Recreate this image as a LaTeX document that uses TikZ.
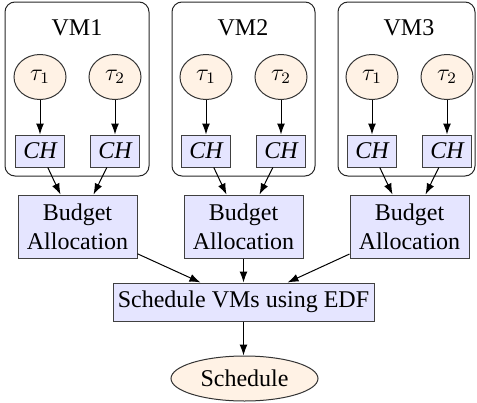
\documentclass[tikz,border=0pt]{standalone}
\usepackage{fontspec}
\setmainfont{Liberation Serif}
\usetikzlibrary{arrows.meta,shapes.geometric,calc}
\begin{document}
\begin{tikzpicture}[x=0.5pt,y=-0.5pt,
  font=\fontsize{12}{14.5}\selectfont,
  vmbox/.style={draw=black!85,line width=0.5pt,rounded corners=5pt,inner sep=0pt},
  task/.style={ellipse,draw=black!80,fill=orange!10,line width=0.5pt,inner sep=0pt,minimum width=26pt,minimum height=22.5pt},
  chbox/.style={rectangle,draw=black!75,fill=blue!10,line width=0.5pt,inner sep=0pt,minimum width=24.5pt,minimum height=16pt,font=\fontsize{12}{14.5}\selectfont\itshape},
  budget/.style={rectangle,draw=black!75,fill=blue!10,line width=0.5pt,inner sep=0pt,minimum width=59.5pt,minimum height=31.5pt,align=center},
  arr/.style={-{Latex[length=5.5pt,width=4pt]},line width=0.5pt}
]
\useasboundingbox (0,0) rectangle (477,402);

% VM containers
\node[vmbox,minimum width=72pt,minimum height=87pt] (vm1) at (77,89) {};
\node[vmbox,minimum width=71.5pt,minimum height=87pt] (vm2) at (243.5,89) {};
\node[vmbox,minimum width=68.5pt,minimum height=87pt] (vm3) at (406.5,89) {};

\foreach \i/\cx in {1/77,2/243,3/409}{
  \node (lab\i) at (\cx,28) {VM\i};
  \node[task] (t\i-1) at (\cx-37,77) {$\tau_1$};
  \node[task] (t\i-2) at (\cx+38,77) {$\tau_2$};
  \node[chbox] (c\i-1) at (\cx-37,151) {CH};
  \node[chbox] (c\i-2) at (\cx+38,151) {CH};
  \node[budget] (b\i) at (\cx+0.5,226.5) {Budget\\Allocation};
  \draw[arr] (t\i-1) -- (c\i-1);
  \draw[arr] (t\i-2) -- (c\i-2);
  \draw[arr] (c\i-1) -- ([xshift=-8.5pt]b\i.north);
  \draw[arr] (c\i-2) -- ([xshift=8pt]b\i.north);
}

\node[budget,minimum width=130.5pt,minimum height=19pt] (sched) at (243.5,302) {Schedule VMs using EDF};
\node[task,minimum width=73.5pt,minimum height=22.5pt] (out) at (244.5,378.5) {Schedule};

\draw[arr] (b1) -- ([xshift=-21.5pt]sched.north);
\draw[arr] (b2) -- (b2 |- sched.north);
\draw[arr] (b3) -- ([xshift=22pt]sched.north);
\draw[arr] (sched) -- (sched |- out.north);
\end{tikzpicture}
\end{document}
